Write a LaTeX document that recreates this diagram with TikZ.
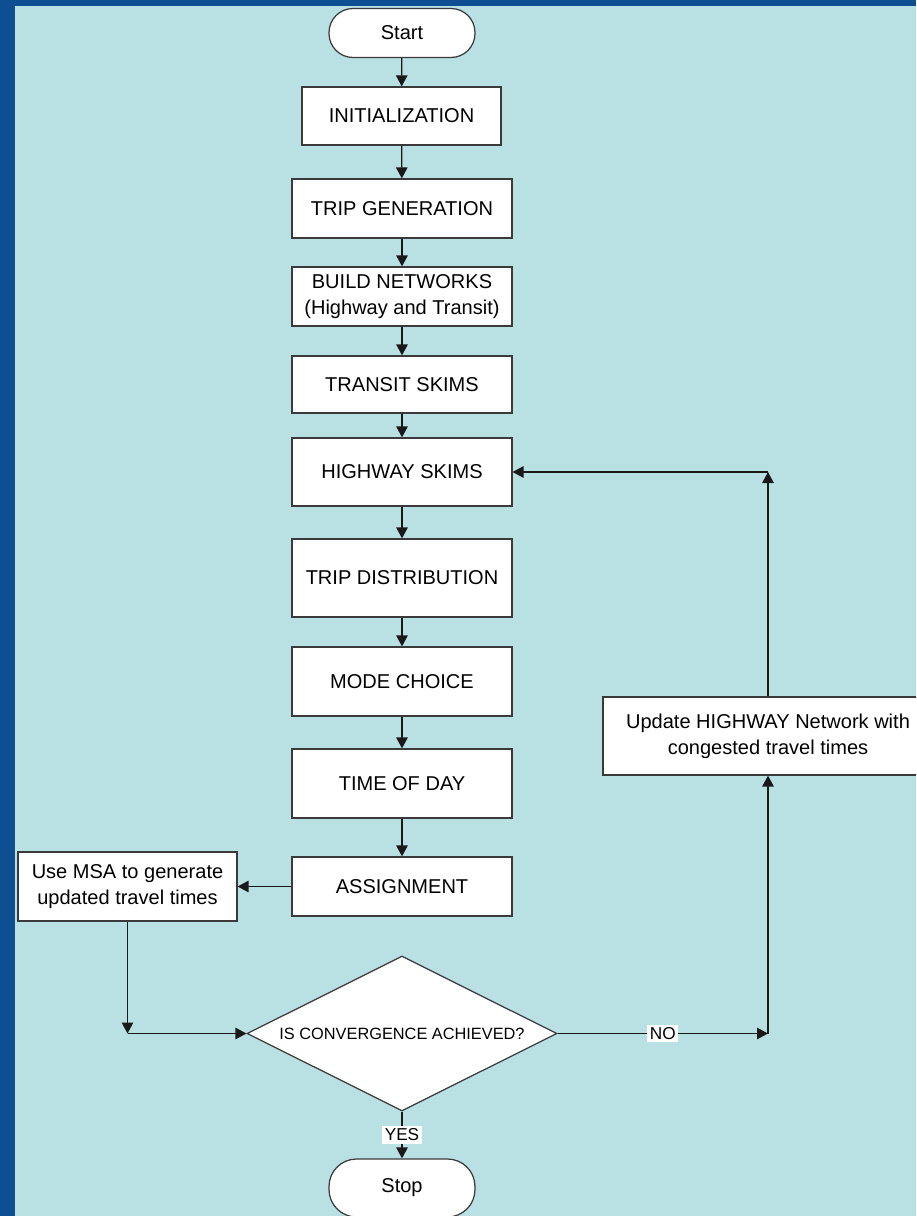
\documentclass[tikz,border=0pt]{standalone}
\usepackage{fontspec}
\setmainfont{Liberation Sans}
\usetikzlibrary{arrows.meta,shapes.geometric}
\definecolor{slideblue}{HTML}{0E4E93}
\definecolor{panelcyan}{HTML}{B9E0E3}
\definecolor{edgegray}{HTML}{3A3A3A}

\begin{document}
\begin{tikzpicture}[
    x=0.02cm, y=-0.02cm,
    stepbox/.style={
      draw=edgegray,
      fill=white,
      line width=0.7pt,
      minimum width=4.40cm,
      minimum height=1.18cm,
      align=center,
      inner sep=2pt,
      font=\fontsize{11.4}{14.8}\selectfont
    },
    startstop/.style={
      stepbox,
      rounded corners=0.48cm,
      minimum width=2.92cm,
      minimum height=0.98cm
    },
    decision/.style={
      diamond,
      draw=edgegray,
      fill=white,
      line width=0.7pt,
      aspect=2,
      minimum width=6.2cm,
      minimum height=3.1cm,
      inner sep=0pt,
      font=\fontsize{9.3}{11}\selectfont
    },
    flow/.style={draw=black!90, line width=0.7pt, -{Triangle[length=2.2mm,width=2.3mm]}},
    answer/.style={fill=white, inner sep=1.5pt, font=\fontsize{9.8}{11}\selectfont}
  ]
    \useasboundingbox (0,0) rectangle (916,1216);
    \clip (0,0) rectangle (916,1216);
    \fill[slideblue] (0,0) rectangle (916,1216);
    \fill[panelcyan] (15,6) rectangle (916,1216);

    \node[startstop] (start) at (402,33) {Start};
    \node[stepbox, minimum width=3.98cm, minimum height=1.16cm] (init) at (401.5,116) {INITIALIZATION};
    \node[stepbox] (tripgen) at (402,208.5) {TRIP GENERATION};
    \node[stepbox] (build) at (402,296.5) {BUILD NETWORKS\\(Highway and Transit)};
    \node[stepbox, minimum height=1.14cm] (transit) at (402,384.5) {TRANSIT SKIMS};
    \node[stepbox, minimum height=1.36cm] (highway) at (402,472) {HIGHWAY SKIMS};
    \node[stepbox, minimum height=1.56cm] (tripdist) at (402,578) {TRIP DISTRIBUTION};
    \node[stepbox, minimum height=1.38cm] (mode) at (402,681.5) {MODE CHOICE};
    \node[stepbox, minimum height=1.38cm] (tod) at (402,783.5) {TIME OF DAY};
    \node[stepbox] (assign) at (402,886.5) {ASSIGNMENT};
    \node[stepbox, minimum width=4.38cm, minimum height=1.38cm] (msa) at (127.5,886.5) {Use MSA to generate\\updated travel times};
    \node[decision] (conv) at (402,1033.5) {IS CONVERGENCE ACHIEVED?};
    \node[stepbox, minimum width=6.6cm, minimum height=1.56cm] (update) at (768,736) {Update HIGHWAY Network with\\congested travel times};
    \node[startstop, minimum height=1.16cm, rounded corners=0.55cm] (stop) at (402,1188) {Stop};

    % corners of the loop-back paths
    \coordinate (msaturn) at (msa.south |- conv.west);
    \coordinate (noturn) at (update.south |- conv.east);
    \coordinate (upturn) at (update.north |- highway.east);

    \foreach \a/\b in {start/init, init/tripgen, tripgen/build, build/transit, transit/highway,
      highway/tripdist, tripdist/mode, mode/tod, tod/assign}
      \draw[flow] (\a) -- (\b);
    \draw[flow] (assign) -- (msa);
    \draw[flow] (msa) -- (msaturn);
    \draw[flow] (msaturn) -- (conv);
    \draw[flow] (conv) -- node[answer] {NO} (noturn);
    \draw[flow] (noturn) -- (update);
    \draw[flow] (update) -- (upturn);
    \draw[flow] (upturn) -- (highway);
    \draw[flow] (conv) -- node[answer] {YES} (stop);
  \end{tikzpicture}
\end{document}
